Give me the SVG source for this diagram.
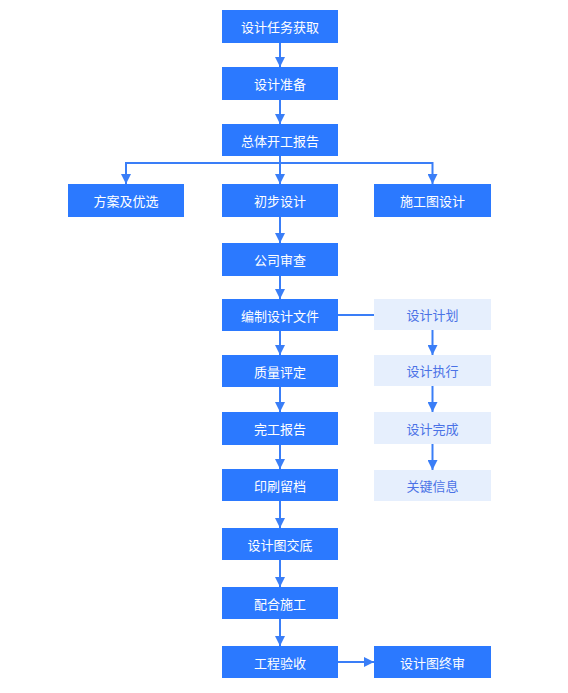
<svg xmlns="http://www.w3.org/2000/svg" width="568" height="693" viewBox="0 0 568 693">
<defs>
<marker id="ah" viewBox="0 0 10 10" refX="10" refY="5" markerWidth="10" markerHeight="10" markerUnits="userSpaceOnUse" orient="auto">
<path d="M0,0 L10,5 L0,10 z" fill="#3a7ef7"/>
</marker>
<style>
.n rect{fill:#2b79ff}
.n text{fill:#ffffff}
.l rect{fill:#e6effd}
.l text{fill:#4a72e6}
text{font-family:"Noto Sans CJK SC","Noto Sans",sans-serif;font-size:13px;text-anchor:middle;dominant-baseline:central}
.c path{fill:none;stroke:#3a7ef7;stroke-width:2}
</style>
</defs>
<rect width="568" height="693" fill="#ffffff"/>
<g class="c">
<path d="M280,43 V67" marker-end="url(#ah)"/>
<path d="M280,100 V124" marker-end="url(#ah)"/>
<path d="M280,156 V184" marker-end="url(#ah)"/>
<path d="M126,184 V163 H432.5 V184" marker-end="url(#ah)"/>
<path d="M126,163 V184" marker-end="url(#ah)"/>
<path d="M280,217 V243" marker-end="url(#ah)"/>
<path d="M280,276 V299" marker-end="url(#ah)"/>
<path d="M338,315 H374"/>
<path d="M280,331 V355" marker-end="url(#ah)"/>
<path d="M280,387 V412" marker-end="url(#ah)"/>
<path d="M280,445 V469" marker-end="url(#ah)"/>
<path d="M280,501 V528" marker-end="url(#ah)"/>
<path d="M280,560 V587" marker-end="url(#ah)"/>
<path d="M280,619 V646" marker-end="url(#ah)"/>
<path d="M338,662 H374" marker-end="url(#ah)"/>
<path d="M432.5,330 V355" marker-end="url(#ah)"/>
<path d="M432.5,386 V412" marker-end="url(#ah)"/>
<path d="M432.5,444 V470" marker-end="url(#ah)"/>
</g>
<g id="n1" class="n"><rect x="222" y="10" width="116" height="33"/><text x="280" y="26.5">设计任务获取</text></g>
<g id="n2" class="n"><rect x="222" y="67" width="116" height="33"/><text x="280" y="83.5">设计准备</text></g>
<g id="n3" class="n"><rect x="222" y="124" width="116" height="32"/><text x="280" y="140">总体开工报告</text></g>
<g id="n4" class="n"><rect x="68" y="184" width="116" height="33"/><text x="126" y="200.5">方案及优选</text></g>
<g id="n5" class="n"><rect x="222" y="184" width="116" height="33"/><text x="280" y="200.5">初步设计</text></g>
<g id="n6" class="n"><rect x="374" y="184" width="117" height="33"/><text x="432.5" y="200.5">施工图设计</text></g>
<g id="n7" class="n"><rect x="222" y="243" width="116" height="33"/><text x="280" y="259.5">公司审查</text></g>
<g id="n8" class="n"><rect x="222" y="299" width="116" height="32"/><text x="280" y="315">编制设计文件</text></g>
<g id="n9" class="n"><rect x="222" y="355" width="116" height="32"/><text x="280" y="371">质量评定</text></g>
<g id="n10" class="n"><rect x="222" y="412" width="116" height="33"/><text x="280" y="428.5">完工报告</text></g>
<g id="n11" class="n"><rect x="222" y="469" width="116" height="32"/><text x="280" y="485">印刷留档</text></g>
<g id="n12" class="n"><rect x="222" y="528" width="116" height="32"/><text x="280" y="544">设计图交底</text></g>
<g id="n13" class="n"><rect x="222" y="587" width="116" height="32"/><text x="280" y="603">配合施工</text></g>
<g id="n14" class="n"><rect x="222" y="646" width="116" height="32"/><text x="280" y="662">工程验收</text></g>
<g id="n15" class="n"><rect x="374" y="646" width="117" height="32"/><text x="432.5" y="662">设计图终审</text></g>
<g id="s1" class="l"><rect x="374" y="299" width="117" height="31"/><text x="432.5" y="314.5">设计计划</text></g>
<g id="s2" class="l"><rect x="374" y="355" width="117" height="31"/><text x="432.5" y="370.5">设计执行</text></g>
<g id="s3" class="l"><rect x="374" y="412" width="117" height="32"/><text x="432.5" y="428">设计完成</text></g>
<g id="s4" class="l"><rect x="374" y="470" width="117" height="31"/><text x="432.5" y="485.5">关键信息</text></g>
</svg>
